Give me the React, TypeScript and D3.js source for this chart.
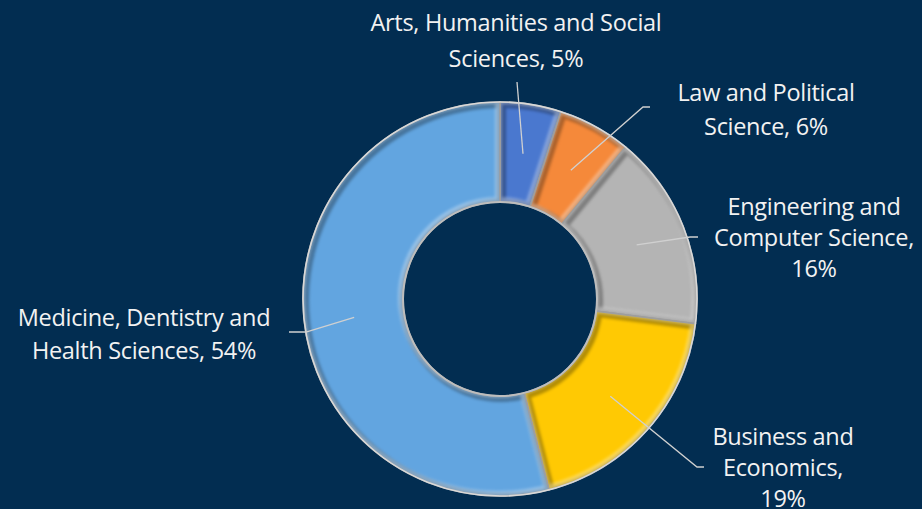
import React from "react";
import * as d3 from "d3";

const categories = [
  "Arts, Humanities and Social Sciences",
  "Law and Political Science",
  "Engineering and Computer Science",
  "Business and Economics",
  "Medicine, Dentistry and Health Sciences",
];
const shares = [5, 6, 16, 19, 54];
const sliceColors = ["#4a78cf", "#f5893a", "#b4b4b4", "#ffc903", "#62a5e0"];

// label text lines (percent appended from data)
const labelLines = [
  ["Arts, Humanities and Social", "Sciences, {p}"],
  ["Law and Political", "Science, {p}"],
  ["Engineering and", "Computer Science,", "{p}"],
  ["Business and", "Economics,", "{p}"],
  ["Medicine, Dentistry and", "Health Sciences, {p}"],
];

// layout: label centre x, first baseline y, line gap, leader polyline points (after centroid)
const labelLayout = [
  { x: 516, y: 31, gap: 36, leader: [[517, 82]] },
  { x: 766, y: 101, gap: 34, leader: [[643, 107], [650, 107]] },
  { x: 814, y: 215, gap: 31, leader: [[690, 237], [698, 237]] },
  { x: 783, y: 445, gap: 31, leader: [[697, 467], [704, 467]] },
  { x: 144, y: 326, gap: 33, leader: [[306, 332], [289, 332]] },
];

const W = 922;
const H = 509;
const cx = 500;
const cy = 299;
const rOuter = 197;
const rInner = 97;

export default function App() {
  const pie = d3
    .pie<number>()
    .sort(null)
    .value((d) => d);
  const arcs = pie(shares);
  const arcGen = d3.arc<d3.PieArcDatum<number>>().innerRadius(rInner).outerRadius(rOuter);
  const line = d3.line();

  return (
    <svg
      width={W}
      height={H}
      style={{ position: "fixed", left: 0, top: 0, display: "block" }}
      viewBox={`0 0 ${W} ${H}`}
    >
      <defs>
        <filter id="soft" x="-5%" y="-5%" width="110%" height="110%">
          <feGaussianBlur stdDeviation="1.6" />
        </filter>
        {arcs.map((a, i) => (
          <clipPath id={`clip${i}`} key={"c" + i}>
            <path d={arcGen(a) || ""} />
          </clipPath>
        ))}
      </defs>
      <rect x={0} y={0} width={W} height={H} fill="#022d51" />
      <g transform={`translate(${cx},${cy})`}>
        {arcs.map((a, i) => {
          const d = arcGen(a) || "";
          return (
            <g key={categories[i]}>
              <path d={d} fill={sliceColors[i]} />
              <g clipPath={`url(#clip${i})`}>
                <path d={d} fill="none" stroke="#000" strokeOpacity={0.3} strokeWidth={9} filter="url(#soft)" transform="translate(1.5,1.5)" />
                <path d={d} fill="none" stroke="#fff" strokeOpacity={0.35} strokeWidth={7} filter="url(#soft)" transform="translate(-1.5,-1.5)" />
              </g>
              <path d={d} fill="none" stroke="#9e9e9e" strokeWidth={1.6} />
            </g>
          );
        })}
        <circle r={rOuter} fill="none" stroke="#d8d8d8" strokeWidth={1.6} />
        <circle r={rInner} fill="none" stroke="#bdbdbd" strokeWidth={2} />
      </g>
      {arcs.map((a, i) => {
        const [px, py] = arcGen.centroid(a);
        const pts: [number, number][] = [[cx + px, cy + py], ...(labelLayout[i].leader as [number, number][])];
        return (
          <path
            key={"l" + i}
            d={line(pts) || ""}
            fill="none"
            stroke="#d0d0d0"
            strokeWidth={1.3}
          />
        );
      })}
      {labelLines.map((lines, i) => {
        const lay = labelLayout[i];
        return (
          <text
            key={"t" + i}
            x={lay.x}
            y={lay.y}
            textAnchor="middle"
            fill="#f2f2f2"
            fontFamily="'Open Sans', Lato, sans-serif"
            fontSize={23.5}
            letterSpacing={-0.3}
          >
            {lines.map((ln, j) => (
              <tspan key={j} x={lay.x} y={lay.y + j * lay.gap}>
                {ln.replace("{p}", shares[i] + "%")}
              </tspan>
            ))}
          </text>
        );
      })}
    </svg>
  );
}
